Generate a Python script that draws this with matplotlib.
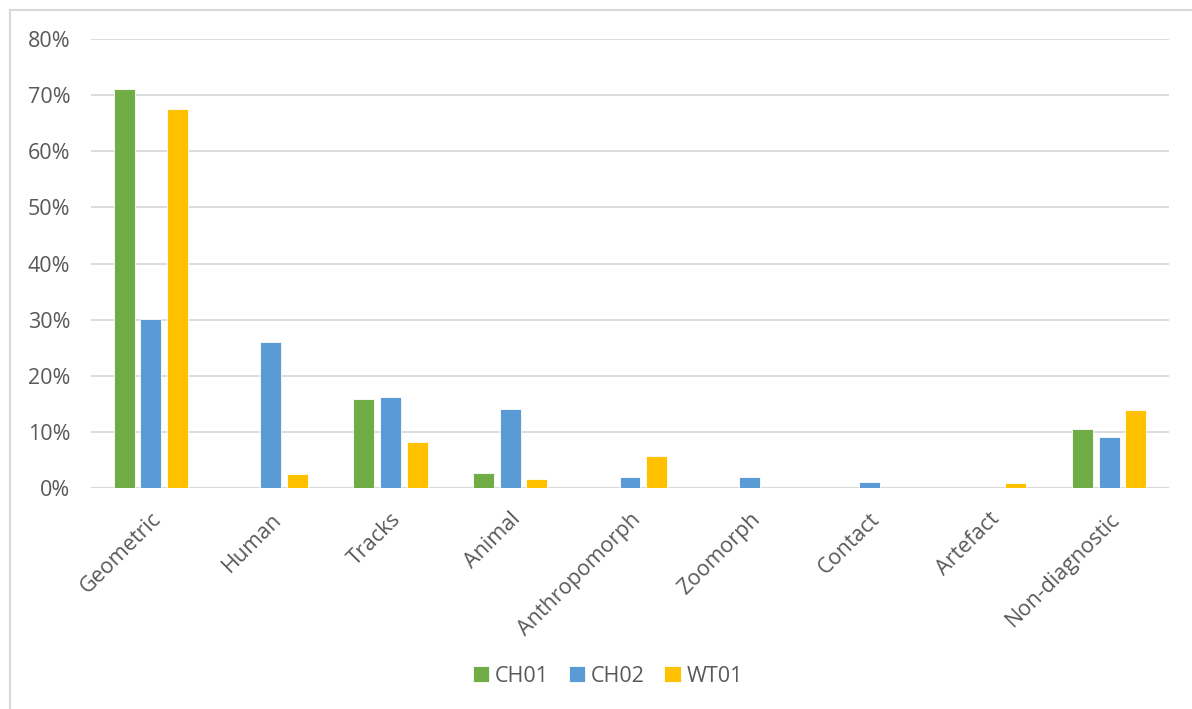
import matplotlib
matplotlib.use("Agg")
import matplotlib.pyplot as plt
import numpy as np
from matplotlib.lines import Line2D
from matplotlib.ticker import PercentFormatter

categories = ["Geometric", "Human", "Tracks", "Animal", "Anthropomorph",
              "Zoomorph", "Contact", "Artefact", "Non-diagnostic"]
series_names = ["CH01", "CH02", "WT01"]
ch01 = [71.1, 0.0, 15.9, 2.7, 0.0, 0.0, 0.0, 0.0, 10.5]
ch02 = [30.1, 26.0, 16.2, 14.1, 2.0, 2.0, 1.1, 0.0, 9.1]
wt01 = [67.6, 2.5, 8.2, 1.6, 5.7, 0.0, 0.0, 0.9, 13.9]
colors = ["#70AD47", "#5B9BD5", "#FFC000"]

TEXT = "#595959"
GRID = "#D9D9D9"
FS = 15.5
plt.rcParams["font.family"] = ["Open Sans", "DejaVu Sans"]

W, H = 1192, 709
fig = plt.figure(figsize=(W / 100, H / 100), dpi=100)
ax = fig.add_axes([91 / W, 1 - 488 / H, (1169 - 91) / W, (488 - 39) / H])

x = np.arange(len(categories))
width = 0.175
step = 0.222
for i, (vals, name, c) in enumerate(zip([ch01, ch02, wt01], series_names, colors)):
    ax.bar(x + (i - 1) * step, np.array(vals) / 100, width, color=c,
           edgecolor="white", linewidth=0.6, label=name, zorder=3)

ax.set_xlim(-0.5, len(categories) - 0.5)
ax.set_ylim(0, 0.8)
ax.set_yticks(np.arange(0, 0.81, 0.1))
ax.yaxis.set_major_formatter(PercentFormatter(1.0, decimals=0))
ax.grid(True, axis="y", color=GRID, linewidth=1.3, zorder=0)
for s in ax.spines.values():
    s.set_visible(False)
ax.axhline(0, color=GRID, linewidth=1.5, zorder=2)
ax.tick_params(axis="both", length=0, colors=TEXT, labelsize=FS)
ax.tick_params(axis="y", pad=15)
ax.set_xticks(x)
ax.set_xticklabels(categories, rotation=45, ha="right",
                   rotation_mode="anchor", color=TEXT, fontsize=FS)
ax.tick_params(axis="x", pad=15)

# chart frame
fig.add_artist(Line2D([10 / W, 1.0], [1 - 10 / H, 1 - 10 / H],
                      transform=fig.transFigure, color=GRID, linewidth=1.5))
fig.add_artist(Line2D([10 / W, 10 / W], [0, 1 - 10 / H],
                      transform=fig.transFigure, color=GRID, linewidth=1.5))

fig.legend(loc="center", bbox_to_anchor=(608 / W, 1 - 676 / H), ncol=3,
           frameon=False, fontsize=FS, labelcolor=TEXT, handlelength=0.75,
           handleheight=0.75, handletextpad=0.3, columnspacing=0.9)

fig.savefig("out.png", dpi=100, facecolor="white")
